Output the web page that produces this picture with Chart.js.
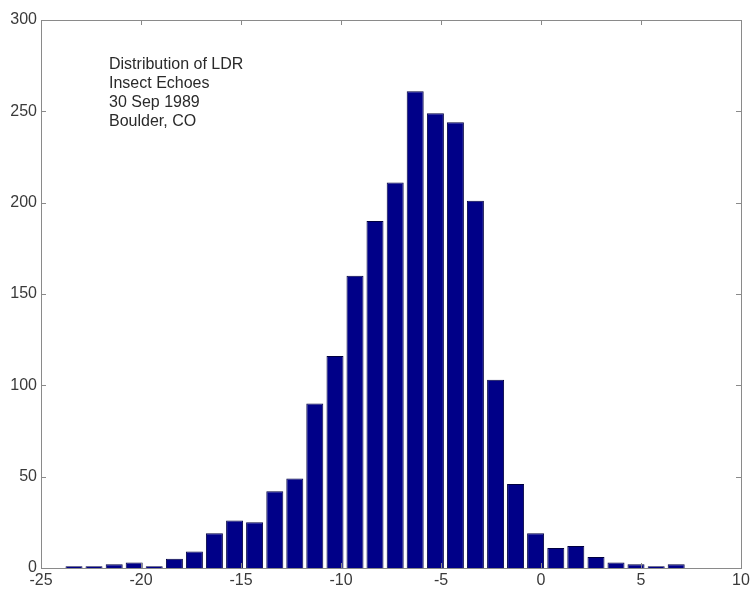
<!DOCTYPE html>
<html>
<head>
<meta charset="utf-8">
<script src="https://cdn.jsdelivr.net/npm/chart.js@4.4.1/dist/chart.umd.min.js"></script>
<style>
  html, body { margin: 0; padding: 0; background: #fff; }
  #wrap { width: 754px; height: 596px; }
</style>
</head>
<body>
<div id="wrap"><canvas id="ldrChart" width="754" height="596"></canvas></div>
<script>
// bin centres (dB) and counts
const binCentres = [-23.35, -22.35, -21.34, -20.34, -19.34, -18.33, -17.33, -16.33, -15.32, -14.32,
  -13.31, -12.31, -11.31, -10.30, -9.30, -8.30, -7.29, -6.29, -5.28, -4.28,
  -3.28, -2.27, -1.27, -0.27, 0.74, 1.74, 2.75, 3.75, 4.75, 5.76, 6.76];
const counts = [1, 1, 2, 3, 1, 5, 9, 19, 26, 25,
  42, 49, 90, 116, 160, 190, 211, 261, 249, 244,
  201, 103, 46, 19, 11, 12, 6, 3, 2, 1, 2];
const xTicks = [-25, -20, -15, -10, -5, 0, 5, 10];
const yTicks = [0, 50, 100, 150, 200, 250, 300];
const noteLines = ['Distribution of LDR', 'Insect Echoes', '30 Sep 1989', 'Boulder, CO'];

const FONT = '"Liberation Sans", Arial, Helvetica, sans-serif';
const AXIS_COLOR = '#8a8a8a';
const TEXT_COLOR = '#3a3a3a';

// matlab style box with inward ticks on all four sides, plus the note text
const boxPlugin = {
  id: 'matlabBox',
  afterDraw(chart) {
    const ctx = chart.ctx;
    const a = chart.chartArea;
    const xs = chart.scales.x, ys = chart.scales.y;
    const len = 5;
    ctx.save();
    ctx.strokeStyle = AXIS_COLOR;
    ctx.lineWidth = 1;
    ctx.strokeRect(Math.round(a.left) + 0.5, Math.round(a.top) + 0.5,
      Math.round(a.right - a.left), Math.round(a.bottom - a.top));
    ctx.beginPath();
    xTicks.forEach(v => {
      const px = Math.round(xs.getPixelForValue(v)) + 0.5;
      ctx.moveTo(px, a.bottom); ctx.lineTo(px, a.bottom - len);
      ctx.moveTo(px, a.top); ctx.lineTo(px, a.top + len);
    });
    yTicks.forEach(v => {
      const py = Math.round(ys.getPixelForValue(v)) + 0.5;
      ctx.moveTo(a.left, py); ctx.lineTo(a.left + len, py);
      ctx.moveTo(a.right, py); ctx.lineTo(a.right - len, py);
    });
    ctx.stroke();

    ctx.fillStyle = '#2a2a2a';
    ctx.font = '16px ' + FONT;
    ctx.textAlign = 'left';
    ctx.textBaseline = 'middle';
    noteLines.forEach((t, i) => ctx.fillText(t, 109, 65 + i * 18.7));
    ctx.restore();
  }
};

new Chart(document.getElementById('ldrChart'), {
  type: 'bar',
  data: {
    datasets: [{
      data: binCentres.map((x, i) => ({ x: x, y: counts[i] })),
      backgroundColor: '#000088',
      borderColor: '#000040',
      borderWidth: 1,
      barPercentage: 1.0,
      categoryPercentage: 0.85
    }]
  },
  options: {
    responsive: false,
    animation: false,
    layout: { padding: { left: 0, right: 13, top: 20, bottom: 0 } },
    plugins: {
      legend: { display: false },
      tooltip: { enabled: false }
    },
    scales: {
      x: {
        type: 'linear',
        min: -25,
        max: 10,
        offset: false,
        grid: { display: false, drawTicks: false, offset: false },
        border: { display: false },
        afterBuildTicks: s => { s.ticks = xTicks.map(v => ({ value: v })); },
        afterFit: s => { s.height = 28; },
        ticks: {
          padding: 3,
          color: TEXT_COLOR,
          font: { family: FONT, size: 16 },
          maxRotation: 0
        }
      },
      y: {
        min: 0,
        max: 300,
        grid: { display: false, drawTicks: false },
        border: { display: false },
        afterBuildTicks: s => { s.ticks = yTicks.map(v => ({ value: v })); },
        afterFit: s => { s.width = 41; },
        ticks: {
          padding: 4,
          color: TEXT_COLOR,
          font: { family: FONT, size: 16 }
        }
      }
    }
  },
  plugins: [boxPlugin]
});
</script>
</body>
</html>
